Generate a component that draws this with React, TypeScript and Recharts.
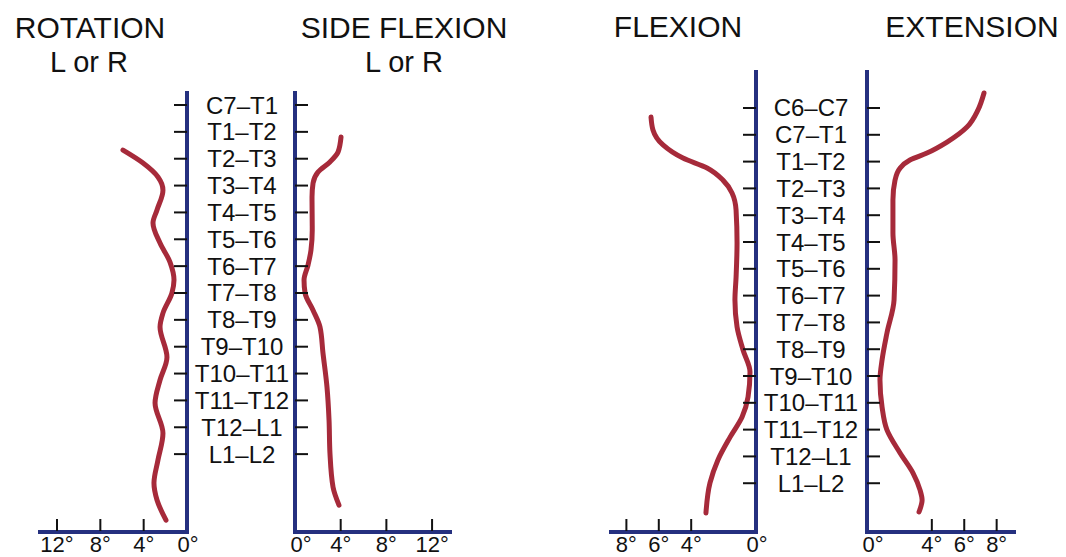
import React from 'react';
import { LineChart, Line, XAxis, YAxis } from 'recharts';

const W = 1066;
const H = 557;
const NAVY = '#25307f';
const RED = '#a62a3a';
const INK = '#111111';
const FONT = '"Liberation Sans", Arial, Helvetica, sans-serif';

// spinal segments, top to bottom
const thoracicLevels = [
  'C7–T1', 'T1–T2', 'T2–T3', 'T3–T4', 'T4–T5', 'T5–T6', 'T6–T7',
  'T7–T8', 'T8–T9', 'T9–T10', 'T10–T11', 'T11–T12', 'T12–L1', 'L1–L2',
];
const sagittalLevels = ['C6–C7', ...thoracicLevels];

const coronalDegTicks = [0, 4, 8, 12];
const sagittalDegTicks = [0, 4, 6, 8];

// idx = position along the segment list (0 = first label), deg = range of motion
const rotationCurve = [
  { idx: 1.68, deg: 5.91 }, { idx: 2.16, deg: 4.06 }, { idx: 2.68, deg: 2.68 },
  { idx: 3.17, deg: 2.22 }, { idx: 3.91, deg: 2.77 }, { idx: 4.39, deg: 3.14 },
  { idx: 5.14, deg: 2.49 }, { idx: 5.85, deg: 1.57 }, { idx: 6.52, deg: 1.2 },
  { idx: 7.0, deg: 1.39 }, { idx: 7.75, deg: 2.22 }, { idx: 8.27, deg: 2.49 },
  { idx: 9.39, deg: 1.85 }, { idx: 10.24, deg: 2.49 }, { idx: 11.1, deg: 2.95 },
  { idx: 12.22, deg: 2.22 }, { idx: 13.22, deg: 2.68 }, { idx: 14.08, deg: 3.05 },
  { idx: 14.71, deg: 2.77 }, { idx: 15.46, deg: 1.94 },
];

const sideFlexionCurve = [
  { idx: 1.19, deg: 4.03 }, { idx: 1.75, deg: 3.77 }, { idx: 2.12, deg: 3.06 },
  { idx: 2.5, deg: 2.01 }, { idx: 2.91, deg: 1.58 }, { idx: 3.43, deg: 1.49 },
  { idx: 4.66, deg: 1.51 }, { idx: 5.4, deg: 1.4 }, { idx: 5.96, deg: 1.14 },
  { idx: 6.52, deg: 0.79 }, { idx: 7.0, deg: 0.88 }, { idx: 7.64, deg: 1.58 },
  { idx: 8.27, deg: 2.19 }, { idx: 9.24, deg: 2.45 }, { idx: 10.5, deg: 2.8 },
  { idx: 11.73, deg: 2.98 }, { idx: 12.96, deg: 3.06 }, { idx: 14.23, deg: 3.33 },
  { idx: 14.9, deg: 3.85 },
];

const flexionCurve = [
  { idx: 0.34, deg: 6.48 }, { idx: 0.82, deg: 6.36 }, { idx: 1.38, deg: 5.74 },
  { idx: 1.87, deg: 4.51 }, { idx: 2.24, deg: 3.02 }, { idx: 2.69, deg: 2.04 },
  { idx: 3.17, deg: 1.48 }, { idx: 3.81, deg: 1.23 }, { idx: 5.04, deg: 1.17 },
  { idx: 6.31, deg: 1.23 }, { idx: 7.16, deg: 1.3 }, { idx: 8.17, deg: 1.17 },
  { idx: 9.03, deg: 0.8 }, { idx: 9.85, deg: 0.37 }, { idx: 10.78, deg: 0.49 },
  { idx: 11.53, deg: 0.86 }, { idx: 12.28, deg: 1.6 }, { idx: 13.13, deg: 2.35 },
  { idx: 13.99, deg: 2.84 }, { idx: 15.11, deg: 3.09 },
];

const extensionCurve = [
  { idx: -0.56, deg: 7.22 }, { idx: 0.07, deg: 6.85 }, { idx: 0.71, deg: 6.17 },
  { idx: 1.27, deg: 4.94 }, { idx: 1.68, deg: 3.7 }, { idx: 1.94, deg: 2.65 },
  { idx: 2.24, deg: 2.04 }, { idx: 2.69, deg: 1.73 }, { idx: 3.43, deg: 1.6 },
  { idx: 4.66, deg: 1.6 }, { idx: 5.67, deg: 1.73 }, { idx: 7.16, deg: 1.67 },
  { idx: 8.4, deg: 1.23 }, { idx: 9.4, deg: 0.93 }, { idx: 10.15, deg: 0.8 },
  { idx: 11.16, deg: 0.93 }, { idx: 12.01, deg: 1.23 }, { idx: 12.87, deg: 2.04 },
  { idx: 13.62, deg: 2.84 }, { idx: 14.25, deg: 3.27 }, { idx: 14.63, deg: 3.4 },
  { idx: 15.07, deg: 3.21 },
];

type Pt = { idx: number; deg: number };

interface PanelProps {
  data: Pt[];
  levels: string[];
  degTicks: number[];
  degMax: number;
  idxDomain: [number, number];
  mirrored: boolean; // degrees grow to the left, spine axis on the right
  margin: { top: number; right: number; bottom: number; left: number };
  labelDx?: number;
}

const Panel: React.FC<PanelProps> = ({ data, levels, degTicks, degMax, idxDomain, mirrored, margin, labelDx }) => {
  const tickDir = mirrored ? -1 : 1;

  const DegTick = (p: any) => {
    const { x, y, payload } = p;
    const v = payload.value;
    return (
      <g>
        {v !== 0 && <line x1={x} x2={x} y1={y - 13} y2={y - 1} stroke={INK} strokeWidth={2} />}
        <text
          x={v === 0 ? x + (mirrored ? 1 : 6) : x}
          y={y + 20}
          textAnchor="middle"
          fontSize={22}
          fontFamily={FONT}
          fill={INK}
        >
          {`${v}°`}
        </text>
      </g>
    );
  };

  const LevelTick = (p: any) => {
    const { x, y, payload } = p;
    return (
      <g>
        <line x1={x} x2={x + tickDir * 13} y1={y} y2={y} stroke={INK} strokeWidth={2} />
        {labelDx !== undefined && (
          <text x={x + labelDx} y={y + 8.5} textAnchor="middle" fontSize={24} fontFamily={FONT} fill={INK}>
            {levels[payload.value]}
          </text>
        )}
      </g>
    );
  };

  // axes need a non-zero size to render; take that 1px out of the margins
  const m = {
    top: margin.top,
    bottom: margin.bottom - 1,
    left: mirrored ? margin.left : margin.left - 1,
    right: mirrored ? margin.right - 1 : margin.right,
  };

  const axisStyle = { stroke: NAVY, strokeWidth: 4, strokeLinecap: 'square' as const };

  return (
    <div style={{ position: 'absolute', left: 0, top: 0 }}>
      <LineChart width={W} height={H} data={data} layout="vertical" margin={m}>
        <XAxis
          type="number"
          domain={[0, degMax]}
          allowDataOverflow
          reversed={mirrored}
          ticks={degTicks}
          interval={0}
          height={1}
          tickSize={0}
          tickMargin={0}
          tickLine={false}
          axisLine={axisStyle}
          tick={DegTick}
        />
        <YAxis
          type="number"
          dataKey="idx"
          domain={idxDomain}
          allowDataOverflow
          orientation={mirrored ? 'right' : 'left'}
          ticks={levels.map((_, i) => i)}
          interval={0}
          width={1}
          tickSize={0}
          tickMargin={0}
          tickLine={false}
          axisLine={axisStyle}
          tick={LevelTick}
        />
        <Line
          dataKey="deg"
          type="monotone"
          stroke={RED}
          strokeWidth={5}
          strokeLinecap="round"
          dot={false}
          isAnimationActive={false}
        />
      </LineChart>
    </div>
  );
};

const titles = [
  { text: 'ROTATION', x: 90, y: 38, size: 30 },
  { text: 'L or R', x: 89, y: 72, size: 29 },
  { text: 'SIDE FLEXION', x: 404, y: 38, size: 30 },
  { text: 'L or R', x: 404, y: 72, size: 29 },
  { text: 'FLEXION', x: 678, y: 37, size: 30 },
  { text: 'EXTENSION', x: 972, y: 37, size: 30 },
];

export default function App() {
  return (
    <div style={{ position: 'absolute', left: 0, top: 0, width: W, height: H, background: '#fff', overflow: 'hidden' }}>
      <Panel
        data={rotationCurve}
        levels={thoracicLevels}
        degTicks={coronalDegTicks}
        degMax={13.57}
        idxDomain={[-0.447, 15.9]}
        mirrored
        margin={{ top: 93, right: W - 187, bottom: H - 532, left: 40 }}
        labelDx={55}
      />
      <Panel
        data={sideFlexionCurve}
        levels={thoracicLevels}
        degTicks={coronalDegTicks}
        degMax={13.57}
        idxDomain={[-0.447, 15.9]}
        mirrored={false}
        margin={{ top: 93, right: W - 450, bottom: H - 532, left: 295 }}
      />
      <Panel
        data={flexionCurve}
        levels={sagittalLevels}
        degTicks={sagittalDegTicks}
        degMax={8.95}
        idxDomain={[-1.343, 15.82]}
        mirrored
        margin={{ top: 72, right: W - 756, bottom: H - 532, left: 611 }}
        labelDx={55}
      />
      <Panel
        data={extensionCurve}
        levels={sagittalLevels}
        degTicks={sagittalDegTicks}
        degMax={9.07}
        idxDomain={[-1.343, 15.82]}
        mirrored={false}
        margin={{ top: 72, right: W - 1014, bottom: H - 532, left: 867 }}
      />
      <svg width={W} height={H} style={{ position: 'absolute', left: 0, top: 0, pointerEvents: 'none' }}>
        {titles.map((t, i) => (
          <text key={i} x={t.x} y={t.y} textAnchor="middle" fontSize={t.size} fontFamily={FONT} fill={INK}>
            {t.text}
          </text>
        ))}
      </svg>
    </div>
  );
}
